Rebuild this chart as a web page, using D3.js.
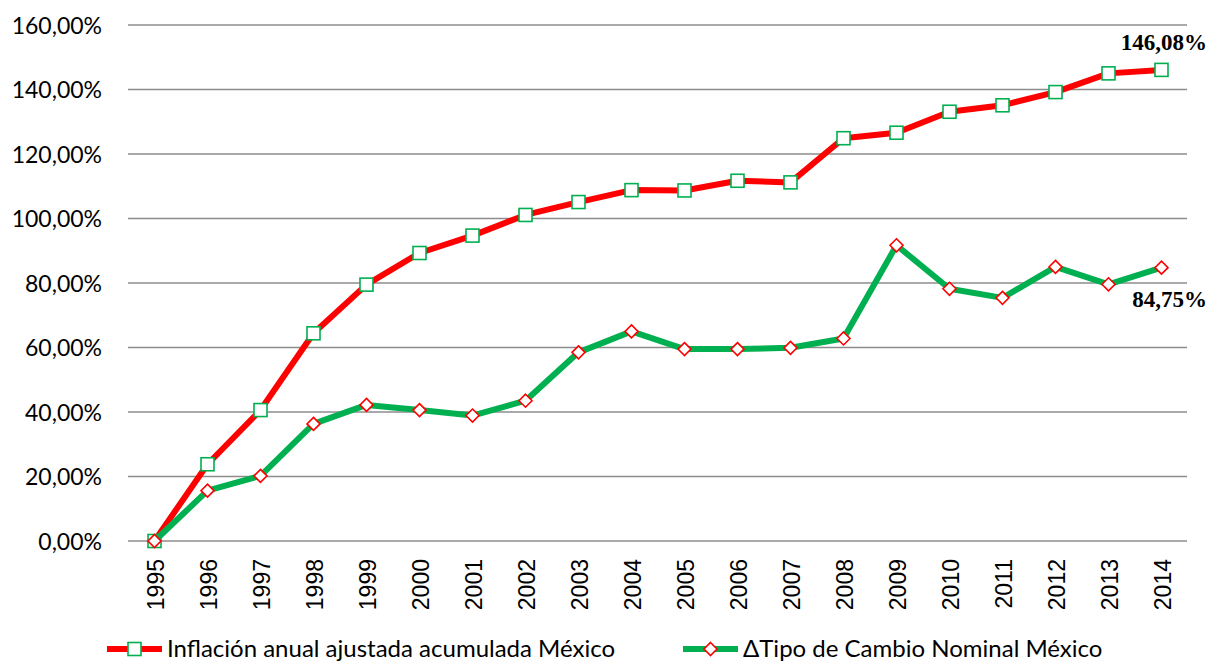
<!DOCTYPE html>
<html>
<head>
<meta charset="utf-8">
<script src="https://cdn.jsdelivr.net/npm/d3@7"></script>
<style>
  html, body { margin: 0; padding: 0; background: #fff; }
  svg { display: block; }
</style>
</head>
<body>
<svg id="chart" width="1210" height="664"></svg>
<script>
const years = ["1995","1996","1997","1998","1999","2000","2001","2002","2003","2004",
               "2005","2006","2007","2008","2009","2010","2011","2012","2013","2014"];
const inflacion = [0, 23.8, 40.6, 64.4, 79.5, 89.3, 94.7, 101.1, 105.1, 108.8,
                   108.7, 111.7, 111.2, 124.9, 126.6, 133.1, 135.1, 139.2, 145.0, 146.08];
const tipoCambio = [0, 15.6, 20.2, 36.3, 42.2, 40.6, 38.9, 43.5, 58.5, 65.0,
                    59.5, 59.5, 59.9, 62.8, 91.7, 78.2, 75.4, 85.0, 79.6, 84.75];
const yTicks = [0, 20, 40, 60, 80, 100, 120, 140, 160];
const seriesNames = ["Inflación anual ajustada acumulada México", "\u0394Tipo de Cambio Nominal México"];
const endLabels = ["146,08%", "84,75%"];

const RED = "#FF0000", GREEN = "#00B050", GRID = "#8c8c8c";
const svg = d3.select("#chart");
const plotLeft = 128, plotRight = 1188, plotTop = 25, plotBottom = 541;

const x = d3.scalePoint().domain(years).range([plotLeft, plotRight]).padding(0.5);
const y = d3.scaleLinear().domain([0, 160]).range([plotBottom, plotTop]);
const fmt = v => v.toFixed(2).replace(".", ",") + "%";

// gridlines
svg.append("g").selectAll("line").data(yTicks).join("line")
  .attr("x1", plotLeft).attr("x2", plotRight - 1)
  .attr("y1", d => y(d)).attr("y2", d => y(d))
  .attr("stroke", GRID).attr("stroke-width", 1.5);

// y axis labels
const yAxis = d3.axisLeft(y).tickValues(yTicks).tickFormat(fmt).tickSize(0).tickPadding(0);
const gy = svg.append("g").attr("transform", `translate(102,0)`).call(yAxis);
gy.select(".domain").remove();
gy.selectAll("text").attr("font-family", "Lato, sans-serif").attr("font-size", 23)
  .attr("fill", "#000").attr("dy", "0.35em");

// x axis labels
const xAxis = d3.axisBottom(x).tickSize(0).tickPadding(0);
const gx = svg.append("g").call(xAxis);
gx.select(".domain").remove();
gx.selectAll("text")
  .attr("font-family", "'Liberation Sans', Arial, sans-serif").attr("font-size", 23)
  .attr("fill", "#000")
  .attr("text-anchor", "end")
  .attr("y", 0).attr("dy", "0.36em")
  .attr("transform", "translate(1,559) rotate(-90)");

// lines
const line = d3.line().x((d, i) => x(years[i])).y(d => y(d));
svg.append("path").datum(inflacion).attr("d", line)
  .attr("fill", "none").attr("stroke", RED).attr("stroke-width", 6).attr("stroke-linejoin", "round");
const sq = 13;
svg.append("g").selectAll("rect").data(inflacion).join("rect")
  .attr("x", (d, i) => x(years[i]) - sq / 2).attr("y", d => y(d) - sq / 2)
  .attr("width", sq).attr("height", sq)
  .attr("fill", "#fff").attr("stroke", GREEN).attr("stroke-width", 1.6);

svg.append("path").datum(tipoCambio).attr("d", line)
  .attr("fill", "none").attr("stroke", GREEN).attr("stroke-width", 6).attr("stroke-linejoin", "round");
const dm = 6.5;
const diamond = (cx, cy) => `M${cx},${cy - dm}L${cx + dm},${cy}L${cx},${cy + dm}L${cx - dm},${cy}Z`;
svg.append("g").selectAll("path").data(tipoCambio).join("path")
  .attr("d", (d, i) => diamond(x(years[i]), y(d)))
  .attr("fill", "#fff").attr("stroke", RED).attr("stroke-width", 1.6);

// end labels
const last = years.length - 1;
svg.append("text").text(endLabels[0])
  .attr("x", 1207).attr("y", y(inflacion[last]) - 20)
  .attr("text-anchor", "end")
  .attr("font-family", "'Liberation Serif', 'Times New Roman', serif")
  .attr("font-weight", "bold").attr("font-size", 23).attr("fill", "#000");
svg.append("text").text(endLabels[1])
  .attr("x", 1207).attr("y", y(tipoCambio[last]) + 39)
  .attr("text-anchor", "end")
  .attr("font-family", "'Liberation Serif', 'Times New Roman', serif")
  .attr("font-weight", "bold").attr("font-size", 23).attr("fill", "#000");

// legend
const ly = 649;
const leg = svg.append("g");
function legendItem(x0, lineColor, markerType, label) {
  leg.append("line").attr("x1", x0).attr("x2", x0 + 55).attr("y1", ly).attr("y2", ly)
    .attr("stroke", lineColor).attr("stroke-width", 6);
  const cx = x0 + 27.5;
  if (markerType === "square") {
    leg.append("rect").attr("x", cx - 6.5).attr("y", ly - 6.5).attr("width", 13).attr("height", 13)
      .attr("fill", "#fff").attr("stroke", GREEN).attr("stroke-width", 1.6);
  } else {
    leg.append("path").attr("d", diamond(cx, ly))
      .attr("fill", "#fff").attr("stroke", RED).attr("stroke-width", 1.6);
  }
  leg.append("text").text(label).attr("x", x0 + 60).attr("y", ly).attr("dy", "0.35em")
    .attr("font-family", "Lato, sans-serif").attr("font-size", 24).attr("fill", "#000");
}
legendItem(107, RED, "square", seriesNames[0]);
legendItem(683, GREEN, "diamond", seriesNames[1]);
</script>
</body>
</html>
